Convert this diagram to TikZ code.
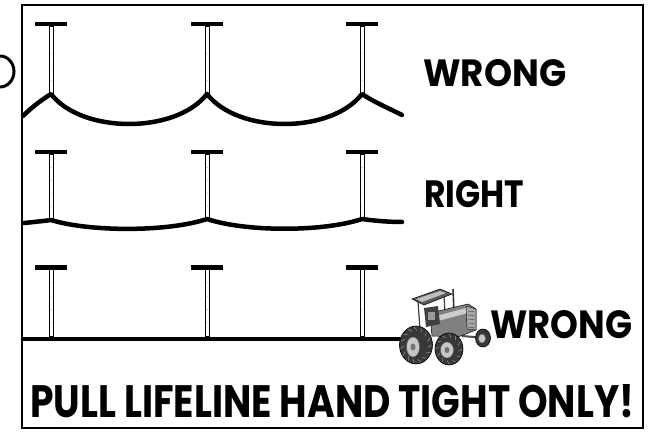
\documentclass[tikz,border=0pt]{standalone}
\usepackage{fontspec}
\newfontfamily\labelfont{Poppins}
\usetikzlibrary{calc}

\begin{document}
\begin{tikzpicture}[x=1pt,y=-1pt,
  rope/.style={line width=4.5pt,line cap=round,line join=round},
  postbar/.style={fill=black,draw=none},
  postshaft/.style={draw=black,fill=white,line width=0.6pt},
  caption/.style={inner sep=0pt,anchor=south west},
  tyre/.style={fill=black!78,draw=black,line width=0.6pt},
  hub/.style={fill=black!22,draw=black!60,line width=0.4pt}]

\useasboundingbox (0,0) rectangle (654,433);
\fill[white] (0,0) rectangle (654,433);

% clipped letter at the left edge
\draw[line width=3pt] (0,56) arc[start angle=-90,end angle=90,x radius=14pt,y radius=-15.5pt];

% outer frame
\draw[line width=2.4pt] (22,5) rectangle (643,428);

% post: name, x centre, bar top, shaft bottom
\newcommand{\lifepost}[4]{%
  \fill[postbar] (#2-16,#3) rectangle (#2+16,#3+4.5);
  \draw[postshaft] (#2-2,#3+4.5) rectangle (#2+2,#4);
  \foreach \d in {0.2,0.4,0.6,0.8}
    \fill[black!55] (#2,{#3+4.5+\d*(#4-#3-4.5)}) circle (0.45pt);
  \coordinate (#1) at (#2,#4);
}

% row 1: rope pulled too slack
\lifepost{a1}{51}{22}{94}
\lifepost{a2}{207}{22}{94}
\lifepost{a3}{362}{22}{94}
\coordinate (a0) at (23,116);
\coordinate (a4) at (402,115);
\draw[rope] (a0) .. controls (33,106) and (43,99) .. (a1)
  .. controls (82,134) and (176,134) .. (a2)
  .. controls (238,134) and (331,134) .. (a3)
  .. controls (372,101) and (386,107) .. (a4);

% row 2: rope hand tight
\lifepost{b1}{51}{150}{220}
\lifepost{b2}{207}{150}{219}
\lifepost{b3}{362}{150}{219}
\coordinate (b0) at (24,223);
\coordinate (b4) at (402,222);
\draw[rope] (b0) .. controls (34,222) and (44,221) .. (b1)
  .. controls (90,232) and (168,232) .. (b2)
  .. controls (246,232) and (323,232) .. (b3)
  .. controls (376,221) and (390,222) .. (b4);

% row 3: rope pulled by a tractor
\lifepost{c1}{51}{265}{336}
\lifepost{c2}{207}{265}{336}
\lifepost{c3}{362}{265}{336}
\coordinate (c0) at (23,339);
\coordinate (c4) at (404,339);
\draw[line width=4pt] (c0) -- (c4);

% tractor
\begin{scope}
  % drawbar and front axle
  \draw[black!70,line width=2pt] (462,336) -- (486,338);
  % exhaust stack
  \draw[black!80,line width=1.6pt] (453,289) -- (454,312);
  % canopy supports
  \draw[black!75,line width=1.2pt] (418,301) -- (420,330);
  \draw[black!75,line width=1.2pt] (444,296) -- (445,313);
  % hood and engine
  \fill[black!50,draw=black,line width=0.5pt]
    (430,313) -- (468,304) -- (476,309) -- (476,330) -- (458,337) -- (432,336) -- cycle;
  \fill[black!20] (436,316) -- (466,308) -- (468,313) -- (438,321) -- cycle;
  \fill[black!35,draw=black,line width=0.4pt] (466,306) -- (476,309) -- (476,330) -- (467,329) -- cycle;
  \foreach \k in {0,...,4}
    \draw[black!75,line width=0.4pt] (468,{311+\k*4}) -- (475,{312+\k*4});
  % seat and driver area
  \fill[black!75] (424,308) -- (438,306) -- (440,324) -- (426,327) -- cycle;
  \fill[black!40] (428,312) rectangle (435,320);
  % canopy
  \fill[black!65,draw=black,line width=0.5pt] (412,299) -- (440,289) -- (452,294) -- (424,305) -- cycle;
  \fill[black!25] (416,299) -- (440,291) -- (446,293) -- (422,302) -- cycle;
  % front wheel
  \fill[tyre] (483,338) ellipse[x radius=7.5pt,y radius=9pt];
  \fill[hub] (482,338.5) ellipse[x radius=3.5pt,y radius=4.5pt];
  % right rear wheel
  \fill[tyre] (449,349) ellipse[x radius=14pt,y radius=16pt];
  \foreach \t in {0,30,...,330}
    \draw[black!40,line width=0.5pt] ($(449,349)+(\t:13pt and -15pt)$) -- ($(449,349)+(\t+10:10pt and -12pt)$);
  \fill[hub] (447,350) ellipse[x radius=6.5pt,y radius=8pt];
  \fill[black!55] (447,350) ellipse[x radius=2.5pt,y radius=3pt];
  % left rear wheel
  \fill[tyre] (416,345) ellipse[x radius=16.5pt,y radius=19pt];
  \foreach \t in {0,24,...,336}
    \draw[black!40,line width=0.5pt] ($(416,345)+(\t:15.5pt and -18pt)$) -- ($(416,345)+(\t+10:12pt and -14.5pt)$);
  \fill[hub] (413,347) ellipse[x radius=6.5pt,y radius=10pt];
  \fill[black!55] (413,347) ellipse[x radius=2.5pt,y radius=3.5pt];
\end{scope}

% captions
\node[caption] (w1) at (423,87) {\resizebox{143pt}{27pt}{\labelfont\bfseries WRONG}};
\node[caption] (r2) at (424,208) {\resizebox{100pt}{27pt}{\labelfont\bfseries RIGHT}};
\node[caption] (w3) at (490,339) {\resizebox{142pt}{28pt}{\labelfont\bfseries WRONG}};
\node[caption] (note) at (30,418) {\resizebox{604pt}{33pt}{\labelfont\bfseries PULL LIFELINE HAND TIGHT ONLY!}};

\end{tikzpicture}
\end{document}
